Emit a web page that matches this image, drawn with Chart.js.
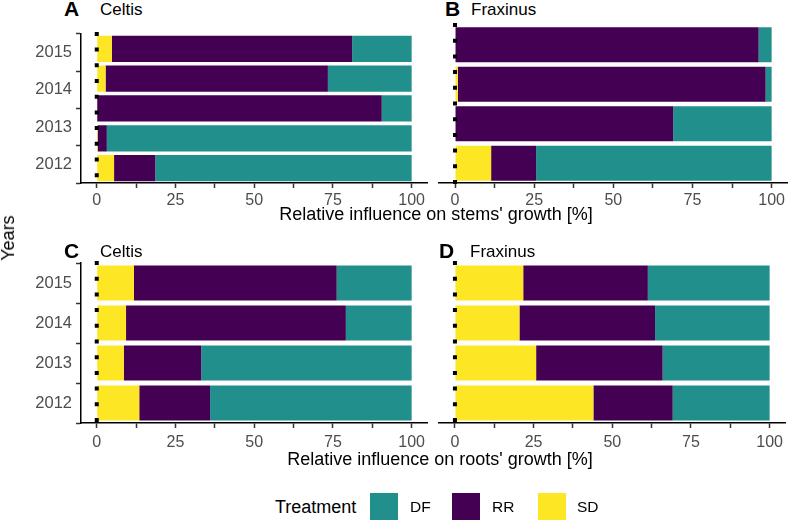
<!DOCTYPE html>
<html>
<head>
<meta charset="utf-8">
<script src="https://cdn.jsdelivr.net/npm/chart.js@4.4.1/dist/chart.umd.min.js"></script>
<style>
  html, body { margin:0; padding:0; background:#fff; }
  #wrap { position:relative; width:788px; height:522px; overflow:hidden; background:#fff;
          font-family:'Liberation Sans', Arial, Helvetica, sans-serif; color:#000; }
  canvas { position:absolute; }
  .t { position:absolute; white-space:nowrap; line-height:1; }
  .sw { position:absolute; width:28px; height:27px; }
</style>
</head>
<body>
<div id="wrap">
  <canvas id="cA" width="432" height="200" style="left:0;top:20px"></canvas>
  <canvas id="cB" width="356" height="200" style="left:432px;top:20px"></canvas>
  <canvas id="cC" width="432" height="220" style="left:0;top:240px"></canvas>
  <canvas id="cD" width="356" height="220" style="left:432px;top:240px"></canvas>

  <div class="t" style="left:64px;top:-2.5px;font-size:21px;font-weight:bold">A</div>
  <div class="t" style="left:100px;top:0.7px;font-size:17px">Celtis</div>
  <div class="t" style="left:445px;top:-2.5px;font-size:21px;font-weight:bold">B</div>
  <div class="t" style="left:471px;top:0.7px;font-size:17px">Fraxinus</div>
  <div class="t" style="left:64px;top:239.5px;font-size:21px;font-weight:bold">C</div>
  <div class="t" style="left:100px;top:242.7px;font-size:17px">Celtis</div>
  <div class="t" style="left:439px;top:239.5px;font-size:21px;font-weight:bold">D</div>
  <div class="t" style="left:470px;top:242.7px;font-size:17px">Fraxinus</div>

  <div class="t" style="left:436px;top:204.8px;font-size:18px;transform:translateX(-50%)">Relative influence on stems' growth [%]</div>
  <div class="t" style="left:440px;top:449.8px;font-size:18px;transform:translateX(-50%)">Relative influence on roots' growth [%]</div>
  <div class="t" style="left:8px;top:238px;font-size:18px;transform:translate(-50%,-50%) rotate(-90deg)">Years</div>

  <div class="t" style="left:275px;top:498px;font-size:18px">Treatment</div>
  <div class="sw" style="left:370px;top:493px;background:#21908C"></div>
  <div class="t" style="left:410px;top:499px;font-size:15.5px">DF</div>
  <div class="sw" style="left:452px;top:493px;background:#440154"></div>
  <div class="t" style="left:492px;top:499px;font-size:15.5px">RR</div>
  <div class="sw" style="left:538px;top:493px;background:#FDE725"></div>
  <div class="t" style="left:577px;top:499px;font-size:15.5px">SD</div>
</div>
<script>
// ---- data ----
const years = ['2015', '2014', '2013', '2012'];
const barsCeltisStems = ['bar 1', 'bar 2', 'bar 3', 'bar 4', 'bar 5'];   // panel A shows five bars
const xTickValues = [0, 12.5, 25, 37.5, 50, 62.5, 75, 87.5, 100];
const xTickLabels = ['0', '', '25', '', '50', '', '75', '', '100'];

// A: Celtis, stems
const celtisStemsSD = [4.8, 2.8, 0.0, 0.3, 5.5];
const celtisStemsRR = [76.3, 70.6, 90.5, 2.9, 13.1];
const celtisStemsDF = [18.9, 26.6, 9.5, 96.8, 81.4];
// B: Fraxinus, stems
const fraxinusStemsSD = [0.0, 0.9, 0.0, 11.4];
const fraxinusStemsRR = [95.9, 97.2, 68.9, 14.2];
const fraxinusStemsDF = [4.1, 1.9, 31.1, 74.4];
// C: Celtis, roots
const celtisRootsSD = [11.8, 9.3, 8.6, 13.5];
const celtisRootsRR = [64.4, 69.8, 24.6, 22.5];
const celtisRootsDF = [23.8, 20.9, 66.8, 64.0];
// D: Fraxinus, roots
const fraxinusRootsSD = [21.7, 20.5, 25.8, 44.0];
const fraxinusRootsRR = [39.6, 43.1, 40.2, 25.2];
const fraxinusRootsDF = [38.7, 36.4, 34.0, 30.8];

// ---- styles ----
const COL = { SD: '#FDE725', RR: '#440154', DF: '#21908C' };
const FONT = "'Liberation Sans', Arial, Helvetica, sans-serif";
const TICK_COLOR = '#4D4D4D';

const zeroLine = {
  id: 'zeroLine',
  afterDatasetsDraw(chart) {
    const ctx = chart.ctx;
    const x = chart.scales.x.getPixelForValue(0);
    const { top, bottom } = chart.chartArea;
    ctx.save();
    ctx.strokeStyle = '#000';
    ctx.lineWidth = 4;
    ctx.lineCap = 'butt';
    ctx.setLineDash([4, 11.7]);
    ctx.beginPath();
    ctx.moveTo(x, top - 2);
    ctx.lineTo(x, bottom + 1);
    ctx.stroke();
    ctx.restore();
  }
};

function fixWidth(s) { s.width = s.options.display ? 81 : 0; }

function makePanel(id, cfg) {
  const { labels, sd, rr, df, showY, tickAxisLabels, padding, xPad } = cfg;
  const yAxisStyle = {
    ticks: { color: TICK_COLOR, padding: 4, font: { family: FONT, size: 16.5 } },
    grid: { drawOnChartArea: false, drawTicks: true, tickLength: 5, tickColor: '#333', tickWidth: 1.5 },
    border: { display: true, color: '#000', width: 1.5 }
  };
  const scales = {
    x: {
      type: 'linear', stacked: true, min: -5, max: 105,
      afterBuildTicks(s) { s.ticks = xTickValues.map(v => ({ value: v })); },
      afterFit(s) { s.height = cfg.xHeight; },
      ticks: {
        autoSkip: false, maxRotation: 0, padding: xPad, color: TICK_COLOR,
        font: { family: FONT, size: 16 },
        callback(v) { const i = xTickValues.indexOf(v); return i >= 0 ? xTickLabels[i] : ''; }
      },
      grid: { drawOnChartArea: false, drawTicks: true, tickLength: 5, tickColor: '#333', tickWidth: 1.5 },
      border: { display: true, color: '#000', width: 1.5 }
    },
    y: Object.assign({
      type: 'category', stacked: true, offset: true,
      display: !!(showY && !tickAxisLabels),
      afterFit: fixWidth
    }, yAxisStyle)
  };
  if (tickAxisLabels) {
    scales.yt = Object.assign({
      type: 'category', labels: tickAxisLabels, offset: true, position: 'left', display: true,
      afterFit: fixWidth
    }, yAxisStyle);
  }
  new Chart(document.getElementById(id), {
    type: 'bar',
    data: {
      labels: labels,
      datasets: [
        { label: 'SD', data: sd, backgroundColor: COL.SD },
        { label: 'RR', data: rr, backgroundColor: COL.RR },
        { label: 'DF', data: df, backgroundColor: COL.DF }
      ]
    },
    options: {
      indexAxis: 'y', responsive: false, animation: false,
      datasets: { bar: { categoryPercentage: 1, barPercentage: 0.88, borderWidth: 0 } },
      layout: { padding: padding },
      plugins: { legend: { display: false }, tooltip: { enabled: false } },
      scales: scales
    },
    plugins: [zeroLine]
  });
}

makePanel('cA', { labels: barsCeltisStems, sd: celtisStemsSD, rr: celtisStemsRR, df: celtisStemsDF,
  showY: false, tickAxisLabels: years, padding: { top: 5, left: 0, right: 4.6, bottom: 0 }, xHeight: 37, xPad: 3 });
makePanel('cB', { labels: years, sd: fraxinusStemsSD, rr: fraxinusStemsRR, df: fraxinusStemsDF,
  showY: false, padding: { top: 5, left: 7.2, right: 0.5, bottom: 0 }, xHeight: 37, xPad: 3 });
makePanel('cC', { labels: years, sd: celtisRootsSD, rr: celtisRootsRR, df: celtisRootsDF,
  showY: true, padding: { top: 23, left: 0, right: 4.6, bottom: 0 }, xHeight: 37, xPad: 5 });
makePanel('cD', { labels: years, sd: fraxinusRootsSD, rr: fraxinusRootsRR, df: fraxinusRootsDF,
  showY: false, padding: { top: 23, left: 7.2, right: 0.5, bottom: 0 }, xHeight: 37, xPad: 5 });
</script>
</body>
</html>
